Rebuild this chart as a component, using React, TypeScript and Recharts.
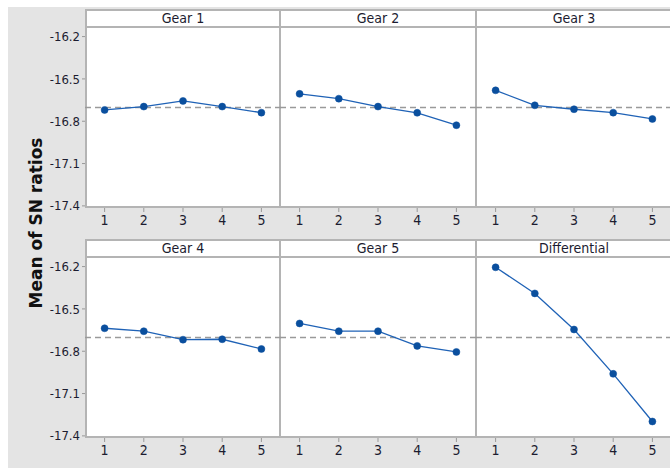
import React from 'react';
import { LineChart, Line, XAxis, YAxis, ReferenceLine } from 'recharts';

const levels = [1, 2, 3, 4, 5];
const panelTitles = ['Gear 1', 'Gear 2', 'Gear 3', 'Gear 4', 'Gear 5', 'Differential'];
const gear1 = [-16.72, -16.696, -16.656, -16.696, -16.739];
const gear2 = [-16.606, -16.64, -16.696, -16.74, -16.828];
const gear3 = [-16.581, -16.687, -16.715, -16.739, -16.784];
const gear4 = [-16.637, -16.658, -16.718, -16.715, -16.784];
const gear5 = [-16.603, -16.658, -16.658, -16.762, -16.805];
const differential = [-16.205, -16.39, -16.646, -16.96, -17.298];
const yTicks = [-16.2, -16.5, -16.8, -17.1, -17.4];
const overallMean = -16.703;

const seriesList = [gear1, gear2, gear3, gear4, gear5, differential];

const colLeft = [85, 280, 476];
const colWidth = 196;
const rowTop = [9, 239];
const headerH = 18;
const plotH = 181;
const yAxisW = 60;

const tickFont = "'Liberation Sans Narrow', 'DejaVu Sans Condensed', 'Roboto Condensed', 'Liberation Sans', sans-serif";
const frameColor = '#b4b4b4';

function Panel({ idx }: { idx: number }) {
  const col = idx % 3;
  const row = Math.floor(idx / 3);
  const showY = col === 0;
  const data = levels.map((l, i) => ({ level: l, value: seriesList[idx][i] }));
  const left = showY ? colLeft[col] - yAxisW : colLeft[col];
  const width = showY ? colWidth + yAxisW : colWidth;
  return (
    <div style={{ position: 'absolute', left, top: rowTop[row] + headerH, width, height: plotH + 34 }}>
      <LineChart width={width} height={plotH + 34} data={data} margin={{ top: 0, right: 0, bottom: 0, left: 0 }}>
        <XAxis
          dataKey="level"
          type="number"
          domain={[0.5, 5.5]}
          ticks={levels}
          allowDataOverflow
          axisLine={false}
          tickLine={{ stroke: '#999' }}
          tickSize={4}
          tickMargin={3}
          height={34}
          tick={{ fill: '#1c1c30', fontSize: 14, fontFamily: tickFont }}
        />
        <YAxis
          type="number"
          domain={[-17.415, -16.132]}
          ticks={yTicks}
          allowDataOverflow
          hide={!showY}
          width={yAxisW}
          axisLine={false}
          tickLine={{ stroke: '#999' }}
          tickSize={3}
          tickMargin={2}
          tickFormatter={(v: number) => v.toFixed(1)}
          tick={{ fill: '#1c1c30', fontSize: 13, fontFamily: tickFont }}
        />
        <ReferenceLine y={overallMean} stroke="#9a9a9a" strokeWidth={1.5} strokeDasharray="6 4" />
        <Line
          type="linear"
          dataKey="value"
          stroke="#1f62b6"
          strokeWidth={1.3}
          dot={{ r: 3.5, fill: '#0a4f9e', stroke: '#0a4f9e', strokeWidth: 0.5 }}
          isAnimationActive={false}
        />
      </LineChart>
    </div>
  );
}

export default function App() {
  return (
    <div style={{ position: 'absolute', left: 0, top: 0, width: 670, height: 468, overflow: 'hidden', background: '#fff' }}>
      <div style={{ position: 'absolute', left: 8, top: 7, width: 662, height: 461, background: '#e4e4e4' }} />
      {rowTop.map((t, r) => (
        <React.Fragment key={r}>
          <div
            style={{
              position: 'absolute',
              left: colLeft[0],
              top: t,
              width: 600,
              height: headerH + plotH,
              background: '#fff',
              border: `2px solid ${frameColor}`,
              boxSizing: 'border-box',
            }}
          />
          <div style={{ position: 'absolute', left: colLeft[0], top: t + headerH - 1, width: 600, height: 2, background: frameColor }} />
          {[1, 2].map((c) => (
            <div key={c} style={{ position: 'absolute', left: colLeft[c] - 1, top: t, width: 2, height: headerH + plotH, background: frameColor }} />
          ))}
          {[0, 1, 2].map((c) => (
            <div
              key={'h' + c}
              style={{
                position: 'absolute',
                left: colLeft[c],
                top: t,
                width: colWidth,
                height: headerH,
                lineHeight: headerH + 'px',
                textAlign: 'center',
                fontFamily: tickFont,
                fontSize: 14,
                color: '#1c1c30',
              }}
            >
              {panelTitles[r * 3 + c]}
            </div>
          ))}
        </React.Fragment>
      ))}
      {panelTitles.map((_, i) => (
        <Panel key={i} idx={i} />
      ))}
      <div
        style={{
          position: 'absolute',
          left: 36,
          top: 223,
          transform: 'translate(-50%, -50%) rotate(-90deg)',
          whiteSpace: 'nowrap',
          fontFamily: "'DejaVu Sans', Verdana, sans-serif",
          fontWeight: 'bold',
          fontSize: 17,
          color: '#111',
        }}
      >
        Mean of SN ratios
      </div>
    </div>
  );
}
